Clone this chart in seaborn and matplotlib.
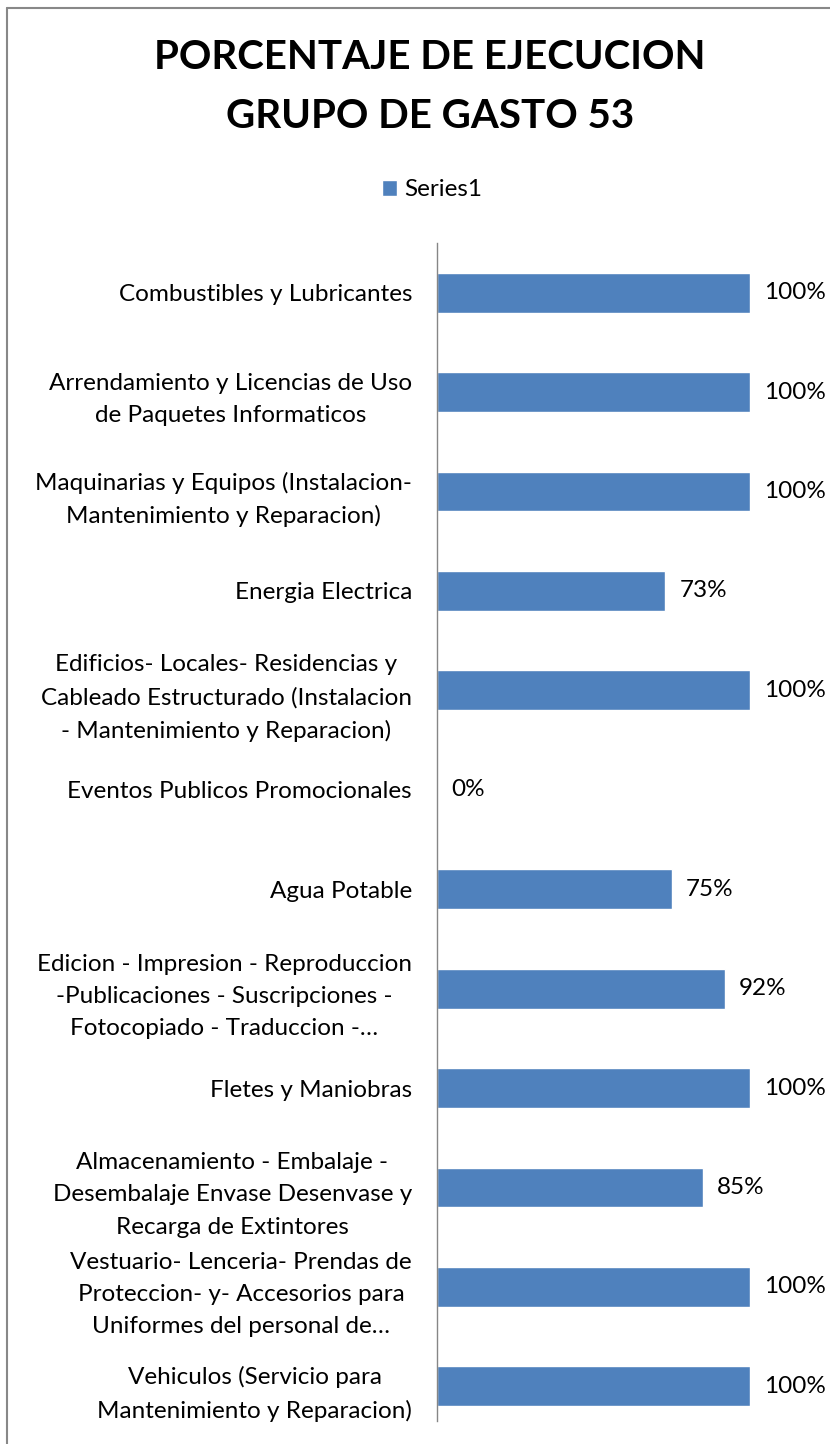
import matplotlib
matplotlib.use('Agg')
import matplotlib.pyplot as plt
import seaborn as sns
import pandas as pd
from matplotlib.lines import Line2D

# --- data ---
categories = [
    "Combustibles y Lubricantes",
    "Arrendamiento y Licencias de Uso\nde Paquetes Informaticos",
    "Maquinarias y Equipos (Instalacion-\nMantenimiento y Reparacion)",
    "Energia Electrica",
    "Edificios- Locales- Residencias y\nCableado Estructurado (Instalacion\n- Mantenimiento y Reparacion)",
    "Eventos Publicos Promocionales",
    "Agua Potable",
    "Edicion - Impresion - Reproduccion\n-Publicaciones - Suscripciones -\nFotocopiado - Traduccion -…",
    "Fletes y Maniobras",
    "Almacenamiento - Embalaje -\nDesembalaje Envase Desenvase y\nRecarga de Extintores",
    "Vestuario- Lenceria- Prendas de\nProteccion- y- Accesorios para\nUniformes del personal de…",
    "Vehiculos (Servicio para\nMantenimiento y Reparacion)",
]
values = [1.00, 1.00, 1.00, 0.73, 1.00, 0.00, 0.75, 0.92, 1.00, 0.85, 1.00, 1.00]
series_name = "Series1"
title = "PORCENTAJE DE EJECUCION\nGRUPO DE GASTO 53"

df = pd.DataFrame({"categoria": categories, "valor": values})

sns.set_theme(style="white")
plt.rcParams['font.family'] = ['Lato', 'DejaVu Sans']
plt.rcParams['text.color'] = 'black'
plt.rcParams['ytick.labelcolor'] = 'black'

W, H = 830, 1444
fig = plt.figure(figsize=(W / 100, H / 100), dpi=100)
ax = fig.add_axes([437 / W, 1 - 1436 / H, (750 - 437) / W, (1436 - 243) / H])

sns.barplot(data=df, x="valor", y="categoria", orient="h", color="#4F81BD",
            saturation=1, width=0.4, label=series_name, ax=ax)
if ax.get_legend() is not None:
    ax.get_legend().remove()

ax.set_xlim(0, 1)
ax.set_ylim(11.5, -0.5)
ax.set_xlabel("")
ax.set_ylabel("")
ax.xaxis.set_visible(False)
for s in ["top", "right", "bottom"]:
    ax.spines[s].set_visible(False)
ax.spines["left"].set_color("#868686")
ax.spines["left"].set_linewidth(1)
ax.spines["left"].set_bounds(11.35, -0.5)
ax.tick_params(axis="y", length=0, pad=18, labelsize=17.5)
for lbl in ax.get_yticklabels():
    lbl.set_multialignment("center")
    lbl.set_linespacing(1.65)

ax.bar_label(ax.containers[0], labels=[f"{v:.0%}" for v in values],
             padding=10, fontsize=17.5, color="black")

fig.text(430 / W, 1 - 87 / H, title, ha="center", va="center",
         fontsize=29, fontweight="bold", linespacing=1.75, color="black")

fig.legend(loc="center", bbox_to_anchor=(432 / W, 1 - 190 / H), frameon=False,
           fontsize=17.5, handlelength=0.6, handleheight=0.6, handletextpad=0.3)

# chart border (top and left edges visible in the reference)
fig.add_artist(Line2D([7 / W, 1], [1 - 8 / H, 1 - 8 / H], color="#888888", lw=1.5))
fig.add_artist(Line2D([7 / W, 7 / W], [0, 1 - 8 / H], color="#888888", lw=1.5))

fig.savefig("out.png", dpi=100)
